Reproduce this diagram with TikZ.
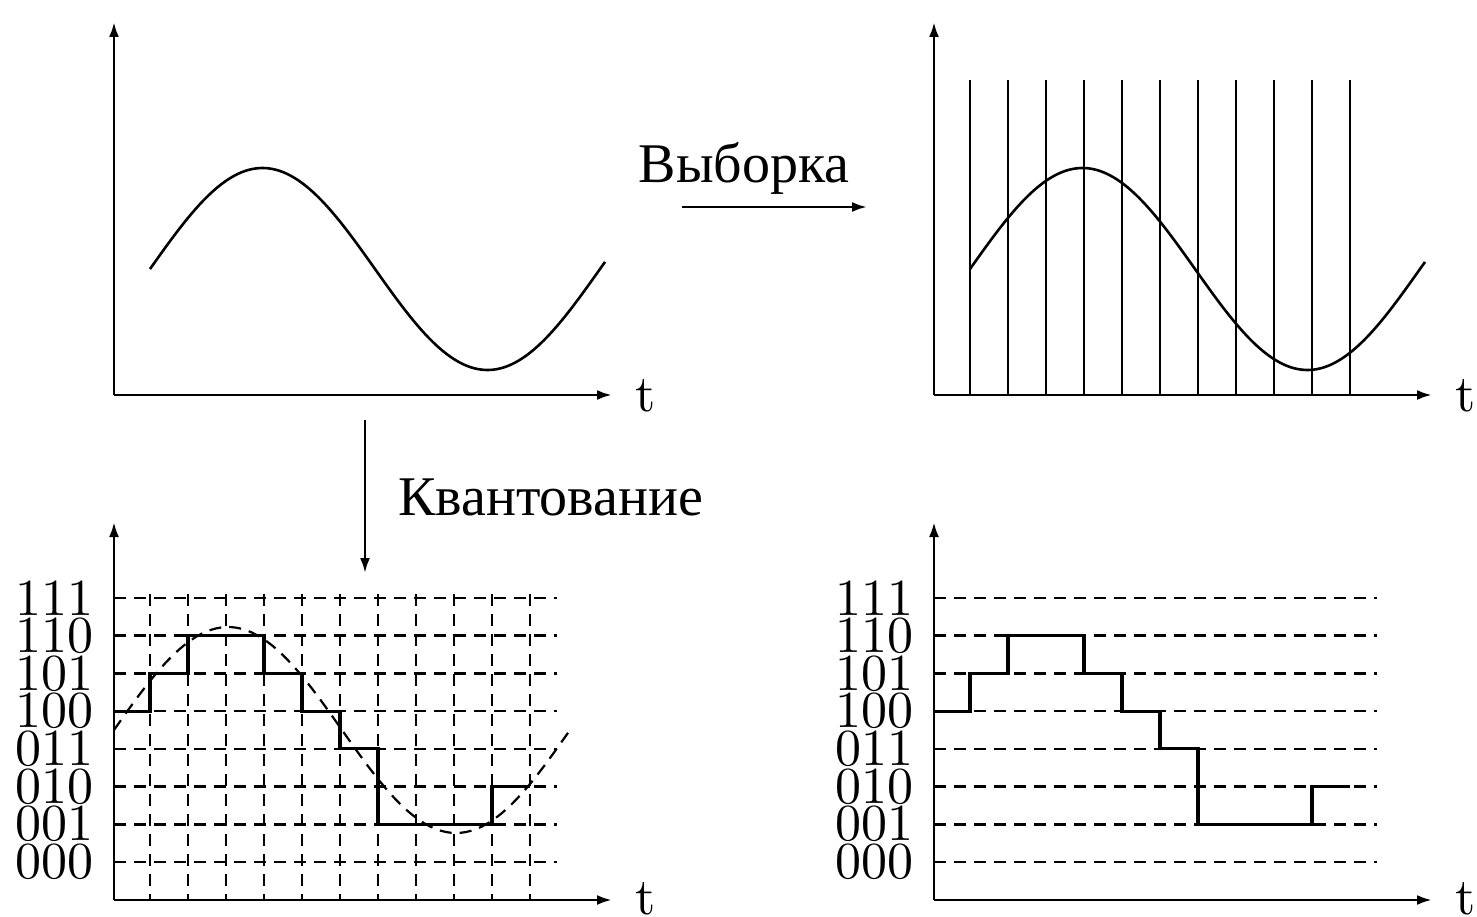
\documentclass[tikz,border=0pt]{standalone}
\usepackage{fontspec}
\newfontfamily\cyrfont{Liberation Serif}
\newfontfamily\digfont[Extension=.otf]{lmroman10-regular}
\usetikzlibrary{arrows.meta,positioning}

\begin{document}
\begin{tikzpicture}[x=1pt, y=-1pt,
    axisarr/.style={line width=2.8pt, -{Latex[length=15pt,width=10pt]}},
    conv/.style={line width=2.6pt, -{Latex[length=15pt,width=10pt]}},
    wave/.style={line width=2.6pt, smooth},
    sampline/.style={line width=2pt},
    qlevel/.style={line width=2.6pt, dash pattern=on 12pt off 8pt},
    vgrid/.style={line width=2.2pt, dash pattern=on 12pt off 8pt},
    stair/.style={line width=3.2pt, line join=miter},
    codelab/.style={font=\digfont\fontsize{52}{52}\selectfont, inner sep=0pt, anchor=east},
    tlab/.style={font=\digfont\fontsize{52}{52}\selectfont, inner sep=0pt, anchor=base},
    proc/.style={font=\cyrfont\fontsize{56}{56}\selectfont, inner sep=0pt, anchor=base}
  ]
  \useasboundingbox (0,0) rectangle (1477,917);

  % Top row: analog signal, then sampled signal
  \foreach \dx in {0,820} {
    \begin{scope}[xshift=\dx]
      \coordinate (ot\dx) at (114,395);
      \coordinate (yt\dx) at (114,22);
      \coordinate (xt\dx) at (612,395);
      \draw[axisarr] (ot\dx) -- (yt\dx);
      \draw[axisarr] (ot\dx) -- (xt\dx);
      \node[tlab] (tt\dx) at (646,411) {t};
      \draw[wave] plot[domain=150:605, samples=90] (\x,{269-101*sin(0.8*(\x-150))});
    \end{scope}
  }
  \foreach \i in {0,...,10}
    \draw[sampline] ({970+38*\i},80) -- ({970+38*\i},395);

  % Bottom row: quantised signal, then coded signal
  \foreach \dx in {0,820} {
    \begin{scope}[xshift=\dx]
      \coordinate (ob\dx) at (114,900);
      \coordinate (yb\dx) at (114,522);
      \coordinate (xb\dx) at (612,900);
      \draw[axisarr] (ob\dx) -- (yb\dx);
      \draw[axisarr] (ob\dx) -- (xb\dx);
      \node[tlab] (tb\dx) at (646,914) {t};
      \foreach \c [count=\k from 0] in {111,110,101,100,011,010,001,000} {
        \node[codelab] (c\c-\dx) at (94,{598+37.7*\k}) {\c};
        \draw[qlevel] (114,{598+37.7*\k}) -- (557,{598+37.7*\k});
      }
      \draw[stair] (114,711.1) -- (150,711.1) -- (150,673.4) -- (188,673.4)
        -- (188,635.7) -- (264,635.7) -- (264,673.4) -- (302,673.4)
        -- (302,711.1) -- (340,711.1) -- (340,748.8) -- (378,748.8)
        -- (378,824.2) -- (492,824.2) -- (492,786.5) -- (530,786.5);
    \end{scope}
  }
  \foreach \i in {0,...,10}
    \draw[vgrid] ({150+38*\i},594) -- ({150+38*\i},900);
  \draw[vgrid] plot[domain=114:568, samples=90] (\x,{730-103*sin(0.78947*(\x-114))});

  % Steps between the panels
  \coordinate (smpA) at (682,207);
  \coordinate (smpB) at (867,207);
  \draw[conv] (smpA) -- (smpB);
  \node[proc] (smp) at (744,183) {Выборка};

  \coordinate (qntA) at (365,420);
  \coordinate (qntB) at (365,573);
  \draw[conv] (qntA) -- (qntB);
  \node[proc, anchor=base west] (qnt) at (398,515) {Квантование};
\end{tikzpicture}
\end{document}
